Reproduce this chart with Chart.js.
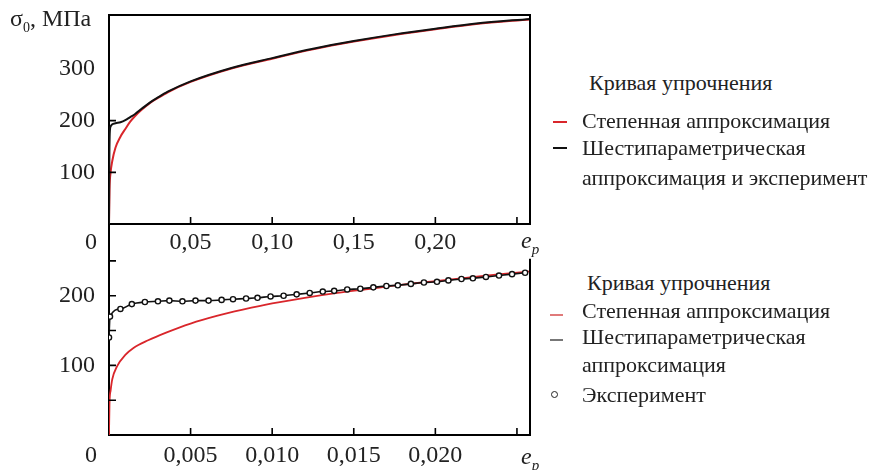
<!DOCTYPE html>
<html>
<head>
<meta charset="utf-8">
<script src="https://cdn.jsdelivr.net/npm/chart.js@4/dist/chart.umd.min.js"></script>
<style>
  body { margin: 0; background: #fff; width: 879px; height: 470px; position: relative; overflow: hidden;
         font-family: "Liberation Serif", "DejaVu Serif", "Noto Serif", serif; color: #222; }
  canvas { position: absolute; left: 0; }
  .t { position: absolute; white-space: nowrap; line-height: 1; }
  .lg { font-size: 22px; }
  .ax { font-size: 24px; }
  .dash { position: absolute; height: 2px; }
  .dot { position: absolute; width: 5px; height: 5px; border: 1.5px solid #222; border-radius: 50%; background: #fff; }
</style>
</head>
<body>
<canvas id="topChart" style="top:0" width="560" height="262"></canvas>
<canvas id="botChart" style="top:220px" width="560" height="250"></canvas>

<div class="t ax" style="left:10px;top:6px">σ<sub style="font-size:14px">0</sub>, МПа</div>
<div class="t ax" style="left:85px;top:229px">0</div>
<div class="t ax" style="left:85px;top:442px">0</div>
<div class="t ax" style="left:521px;top:228px"><i>e</i><sub style="font-size:15px;font-style:italic">p</sub></div>
<div class="t ax" style="left:521px;top:444px"><i>e</i><sub style="font-size:15px;font-style:italic">p</sub></div>

<!-- legend, top chart -->
<div class="t lg" style="left:589px;top:72px">Кривая упрочнения</div>
<div class="dash" style="left:553px;top:121px;width:14px;background:#d9262b"></div>
<div class="t lg" style="left:582px;top:110px">Степенная аппроксимация</div>
<div class="dash" style="left:553px;top:147px;width:14px;background:#111"></div>
<div class="t lg" style="left:582px;top:137px">Шестипараметрическая</div>
<div class="t lg" style="left:582px;top:167px">аппроксимация и эксперимент</div>

<!-- legend, bottom chart -->
<div class="t lg" style="left:587px;top:272px">Кривая упрочнения</div>
<div class="dash" style="left:550px;top:314px;width:13px;background:#e07a7a"></div>
<div class="t lg" style="left:582px;top:300px">Степенная аппроксимация</div>
<div class="dash" style="left:550px;top:339px;width:13px;background:#777"></div>
<div class="t lg" style="left:582px;top:326px">Шестипараметрическая</div>
<div class="t lg" style="left:582px;top:354px">аппроксимация</div>
<div class="dot" style="left:551px;top:391px"></div>
<div class="t lg" style="left:582px;top:384px">Эксперимент</div>

<script>
// upper panel: full strain range
const topRedE   = [0, 0.0003, 0.001, 0.002, 0.004, 0.007, 0.01, 0.013, 0.016, 0.02, 0.025, 0.03, 0.036, 0.05, 0.075, 0.1, 0.125, 0.15, 0.175, 0.2, 0.225, 0.258];
const topRedS   = [0, 65, 100, 122, 148, 169, 184, 198, 209, 221, 234, 244, 255, 275, 301, 320, 338, 353, 366, 377, 387, 396];
const topBlackE = [0, 0.0002, 0.0005, 0.001, 0.002, 0.004, 0.007, 0.01, 0.013, 0.016, 0.02, 0.025, 0.03, 0.036, 0.05, 0.075, 0.1, 0.125, 0.15, 0.175, 0.2, 0.225, 0.258];
const topBlackS = [0, 120, 178, 189, 193, 195, 197, 201, 207, 213, 223, 235, 245, 256, 276, 302, 321, 339, 354, 367, 378, 388, 397];
const topXTicks = [0.05, 0.10, 0.15, 0.20, 0.25];
const topYTicks = [100, 200, 300];

// lower panel: initial part of the curve
const botRedE = [0, 0.00003, 0.0001, 0.0002, 0.0005, 0.001, 0.0015, 0.0024, 0.0035, 0.005, 0.0066, 0.0082, 0.01, 0.012, 0.014, 0.016, 0.018, 0.02, 0.022, 0.024, 0.0258];
const botRedS = [0, 45, 64, 80, 99, 115, 125, 136, 147, 160, 171, 180, 189, 197, 204, 210, 216, 221, 226, 231, 235];
const expE = [0, 0.00006, 0.0007, 0.0014, 0.0022, 0.0030, 0.0037, 0.0045, 0.0053, 0.0061, 0.0069, 0.0076, 0.0084, 0.0091, 0.0099, 0.0107, 0.0115,
              0.0123, 0.0131, 0.0138, 0.0146, 0.0154, 0.0162, 0.0170, 0.0177, 0.0185, 0.0193, 0.0201, 0.0208, 0.0216, 0.0223, 0.0231, 0.0239, 0.0247, 0.0255];
const expS = [140, 170, 181, 188, 191, 192, 193, 192, 193, 193, 194, 195, 196, 197, 199, 200, 202,
              204, 206, 207, 209, 210, 212, 214, 215, 217, 219, 220, 222, 224, 225, 227, 229, 231, 233];
const botXTicks = [0.005, 0.010, 0.015, 0.020, 0.025];
const botYTicks = [100, 200];
const botYMarks = [50, 100, 150, 200, 250];

const RED = '#d9262b';
const BLACK = '#111';
const FONT = { family: '"Liberation Serif", "DejaVu Serif", "Noto Serif", serif', size: 24 };

function pts(xs, ys) {
  return xs.map((v, i) => ({ x: v, y: ys[i] }));
}

// frame lines and small inward tick marks
const framePlugin = {
  id: 'frame',
  afterDatasetsDraw(chart, args, opts) {
    const { ctx, chartArea: a, scales: { x, y } } = chart;
    ctx.save();
    ctx.strokeStyle = '#000';
    ctx.lineWidth = 2;
    ctx.beginPath();
    if (opts.top) { ctx.moveTo(a.left, a.top); ctx.lineTo(a.right + 1, a.top); }
    const rTop = opts.rightFrom != null ? y.getPixelForValue(opts.rightFrom) : a.top;
    ctx.moveTo(a.right, rTop);
    ctx.lineTo(a.right, a.bottom);
    ctx.stroke();
    ctx.lineWidth = 1.6;
    ctx.beginPath();
    opts.xMarks.forEach(v => {
      const px = x.getPixelForValue(v);
      ctx.moveTo(px, a.bottom); ctx.lineTo(px, a.bottom - 7);
    });
    opts.yMarks.forEach(v => {
      const py = y.getPixelForValue(v);
      ctx.moveTo(a.left, py); ctx.lineTo(a.left + 7, py);
    });
    ctx.stroke();
    ctx.restore();
  }
};

function axes(xMax, xTicks, xFmt, yMax, yTicks, xH, xPad) {
  return {
    x: {
      type: 'linear', min: 0, max: xMax,
      grid: { display: false, drawTicks: false },
      border: { display: true, color: '#000', width: 2 },
      afterBuildTicks: s => { s.ticks = xTicks.map(v => ({ value: v })); },
      afterFit: s => { s.height = xH; s.paddingLeft = 0; s.paddingRight = 0; },
      ticks: { autoSkip: false, maxRotation: 0, padding: xPad, color: '#222', font: FONT, callback: xFmt }
    },
    y: {
      type: 'linear', min: 0, max: yMax,
      grid: { display: false, drawTicks: false },
      border: { display: true, color: '#000', width: 2 },
      afterBuildTicks: s => { s.ticks = yTicks.map(v => ({ value: v })); },
      afterFit: s => { s.width = 109; s.paddingTop = 0; s.paddingBottom = 0; },
      ticks: { padding: 14, color: '#222', font: FONT }
    }
  };
}

const baseOpts = {
  responsive: false,
  animation: false,
  events: [],
  plugins: { legend: { display: false }, tooltip: { enabled: false } }
};

new Chart(document.getElementById('topChart'), {
  type: 'line',
  data: {
    datasets: [
      { data: pts(topBlackE, topBlackS), borderColor: BLACK, borderWidth: 2, pointRadius: 0, cubicInterpolationMode: 'monotone' },
      { data: pts(topRedE, topRedS), borderColor: RED, borderWidth: 2, pointRadius: 0, cubicInterpolationMode: 'monotone' }
    ]
  },
  options: {
    ...baseOpts,
    layout: { padding: { top: 15, right: 30, left: 0, bottom: 0 } },
    scales: axes(0.258, topXTicks, v => v >= 0.25 ? '' : v.toFixed(2).replace('.', ','), 404.5, topYTicks, 38, 4),
    plugins: { ...baseOpts.plugins, frame: { top: true, xMarks: topXTicks, yMarks: [100, 200] } }
  },
  plugins: [framePlugin]
});

new Chart(document.getElementById('botChart'), {
  type: 'line',
  data: {
    datasets: [
      { data: pts(expE, expS), borderColor: BLACK, borderWidth: 1.6, pointRadius: 2.6, pointBorderWidth: 1.4,
        pointBackgroundColor: '#fff', pointBorderColor: BLACK, cubicInterpolationMode: 'monotone' },
      { data: pts(botRedE, botRedS), borderColor: RED, borderWidth: 1.8, pointRadius: 0, cubicInterpolationMode: 'monotone' }
    ]
  },
  options: {
    ...baseOpts,
    layout: { padding: { top: 4, right: 30, left: 0, bottom: 0 } },
    scales: axes(0.0258, botXTicks, v => v >= 0.025 ? '' : v.toFixed(3).replace('.', ','), 301, botYTicks, 35, 6),
    plugins: { ...baseOpts.plugins, frame: { top: false, rightFrom: 253, xMarks: botXTicks, yMarks: botYMarks } }
  },
  plugins: [framePlugin]
});
</script>
</body>
</html>
